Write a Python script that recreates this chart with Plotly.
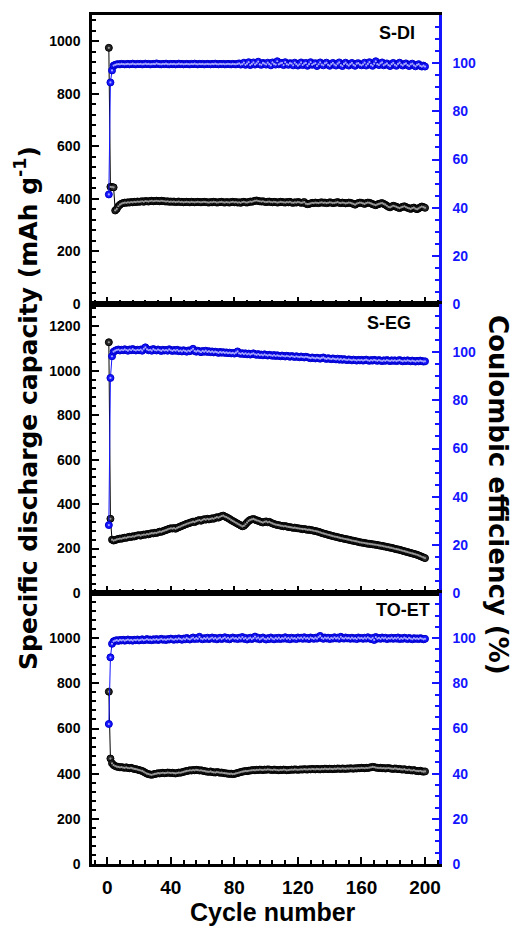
import plotly.graph_objects as go

cycles = list(range(1, 201))

panel_labels = ["S-DI", "S-EG", "TO-ET"]

sdi_cap = [
    975, 446, 445, 444, 356, 362, 372, 378, 382, 384, 386, 385, 387, 386, 388, 387, 389, 388, 390, 389,
    390, 391, 389, 392, 391, 390, 392, 393, 391, 392, 393, 392, 391, 393, 392, 391, 390, 391, 389, 390,
    389, 390, 388, 389, 390, 388, 389, 387, 388, 389, 388, 387, 389, 388, 387, 388, 389, 388, 387, 388,
    389, 388, 387, 386, 388, 387, 389, 388, 386, 387, 388, 389, 387, 386, 388, 387, 386, 388, 389, 387,
    388, 386, 387, 385, 388, 389, 387, 386, 388, 390, 389, 391, 393, 394, 392, 391, 390, 391, 389, 388,
    389, 390, 388, 387, 389, 388, 386, 387, 389, 388, 387, 386, 388, 387, 389, 386, 385, 387, 386, 388,
    387, 385, 386, 388, 382, 380, 381, 383, 385, 384, 386, 385, 384, 386, 387, 385, 386, 384, 385, 387,
    386, 384, 385, 386, 388, 385, 384, 386, 385, 383, 384, 386, 385, 383, 381, 378, 382, 384, 386, 385,
    383, 381, 384, 386, 385, 383, 380, 378, 376, 379, 381, 383, 384, 381, 378, 374, 370, 368, 371, 374,
    372, 370, 367, 365, 368, 370, 372, 369, 366, 364, 362, 365, 367, 363, 361, 364, 368, 371, 369, 366,
]
sdi_ce = [
    45.5, 92.0, 97.0, 99.0, 99.3, 99.5, 99.6, 99.5, 99.7, 99.6, 99.5, 99.6, 99.7, 99.5, 99.6, 99.8, 99.6, 99.5, 99.7, 99.6,
    99.7, 99.5, 99.6, 99.8, 99.6, 99.7, 99.5, 99.6, 99.7, 99.6, 99.9, 99.7, 99.6, 99.5, 99.7, 99.6, 99.8, 99.6, 99.5, 99.7,
    99.6, 99.7, 99.5, 99.6, 99.8, 99.6, 99.7, 99.5, 99.6, 99.7, 99.6, 99.5, 99.7, 99.6, 99.8, 99.6, 99.5, 99.7, 99.6, 99.7,
    99.5, 99.6, 99.7, 99.6, 99.5, 99.7, 99.6, 99.8, 99.6, 99.5, 99.7, 99.6, 99.7, 99.5, 99.6, 99.7, 99.6, 99.5, 99.7, 99.6,
    99.5, 99.7, 99.9, 99.4, 99.6, 100.2, 99.3, 99.8, 100.4, 99.2, 99.7, 100.3, 99.4, 99.9, 100.6, 99.5, 99.3, 100.1, 99.8, 99.4,
    100.2, 99.6, 99.1, 100.3, 99.7, 99.4, 100.8, 99.5, 99.9, 100.1, 99.2, 100.4, 99.6, 99.3, 100.0, 99.8, 99.1, 100.2, 99.6, 99.0,
    99.5, 100.3, 99.2, 99.8, 100.1, 98.9, 99.6, 100.4, 99.3, 99.7, 100.0, 98.8, 99.5, 100.3, 99.4, 99.1, 99.9, 100.2, 99.3, 98.9,
    99.6, 100.1, 99.4, 99.0, 99.8, 100.3, 99.2, 98.8, 99.7, 100.2, 99.5, 99.0, 99.6, 100.1, 99.3, 98.9, 99.8, 100.0, 99.4, 99.1,
    99.5, 100.2, 99.0, 99.7, 100.4, 99.3, 98.9, 99.8, 100.8, 99.6, 99.2, 99.9, 100.3, 99.1, 99.5, 99.9, 99.2, 98.8, 99.6, 100.1,
    99.3, 98.9, 99.7, 100.2, 99.4, 99.0, 99.6, 99.9, 99.2, 98.8, 99.5, 99.8, 99.1, 98.7, 99.3, 99.6, 98.9, 98.6, 99.0, 98.6,
]

seg_cap = [
    1128, 334, 240, 236, 238, 241, 243, 245, 244, 247, 249, 248, 251, 253, 252, 255, 254, 257, 259, 260,
    258, 261, 263, 262, 265, 264, 267, 269, 268, 271, 270, 273, 276, 275, 278, 281, 283, 286, 289, 291,
    290, 292, 289, 293, 296, 299, 302, 305, 308, 311, 313, 316, 318, 321, 319, 323, 326, 328, 325, 329,
    332, 330, 334, 331, 333, 336, 334, 338, 341, 339, 343, 346, 348, 344, 341, 337, 333, 328, 324, 320,
    316, 312, 308, 304, 300, 302, 309, 317, 324, 329, 331, 333, 330, 327, 325, 322, 319, 317, 320, 322,
    318, 320, 316, 313, 310, 308, 306, 305, 303, 302, 300, 301, 299, 297, 296, 295, 293, 294, 292, 291,
    290, 289, 287, 288, 286, 284, 285, 283, 282, 280, 279, 277, 275, 273, 270, 268, 266, 264, 262, 260,
    258, 256, 254, 253, 251, 249, 247, 246, 244, 243, 241, 240, 238, 236, 235, 233, 232, 230, 228, 227,
    226, 225, 223, 222, 221, 220, 219, 218, 217, 216, 214, 213, 212, 210, 209, 207, 206, 204, 203, 201,
    199, 197, 196, 194, 192, 190, 188, 186, 184, 182, 180, 178, 176, 174, 172, 169, 166, 163, 160, 157,
]
seg_ce = [
    28.2, 89.3, 98.3, 100.2, 100.6, 100.9, 101.1, 100.7, 101.0, 100.8, 101.2, 100.9, 100.6, 101.1, 100.8, 101.3, 100.9, 100.7, 101.0, 100.8,
    101.1, 100.6, 101.4, 102.0, 101.2, 100.8, 101.0, 100.6, 101.3, 100.9, 100.7, 101.1, 100.8, 100.5, 101.0, 100.7, 100.9, 100.6, 101.2, 100.8,
    100.5, 100.9, 100.6, 101.0, 100.4, 100.7, 100.3, 100.8, 100.5, 100.2, 100.7, 100.4, 100.9, 101.4, 100.5, 100.2, 100.6, 100.3, 100.0, 100.5,
    100.2, 100.6, 100.1, 100.4, 100.0, 100.3, 99.9, 100.2, 100.0, 99.7, 100.1, 99.8, 100.0, 99.7, 99.9, 99.6, 99.8, 99.5, 99.7, 99.4,
    99.8, 100.3, 99.5, 99.3, 99.6, 99.2, 99.5, 99.1, 99.4, 99.0, 99.3, 99.5, 99.1, 98.9, 99.2, 98.8, 99.0, 98.7, 99.1, 98.8,
    98.6, 98.9, 98.7, 98.5, 98.8, 98.4, 98.7, 98.5, 98.3, 98.6, 98.4, 98.2, 98.5, 98.3, 98.1, 98.4, 98.2, 98.0, 98.3, 98.1,
    97.9, 98.2, 98.0, 97.8, 98.1, 97.9, 97.7, 97.5, 97.8, 97.6, 97.4, 97.7, 97.5, 97.3, 97.6, 97.8, 97.4, 97.2, 97.5, 97.3,
    97.1, 97.4, 97.2, 97.0, 97.3, 96.9, 97.2, 96.8, 97.1, 96.9, 96.7, 97.0, 96.8, 96.6, 96.9, 96.7, 96.5, 96.8, 96.6, 96.8,
    96.5, 96.7, 96.9, 96.6, 96.4, 96.7, 96.5, 96.8, 96.6, 96.4, 96.7, 96.5, 96.3, 96.6, 96.4, 96.7, 96.5, 96.3, 96.6, 96.4,
    96.6, 96.3, 96.5, 96.7, 96.4, 96.2, 96.5, 96.3, 96.6, 96.4, 96.2, 96.5, 96.3, 96.1, 96.4, 96.2, 96.5, 96.3, 96.1, 96.2,
]

toet_cap = [
    763, 467, 446, 438, 434, 431, 430, 428, 429, 427, 426, 428, 425, 424, 426, 423, 421, 420, 418, 416,
    414, 412, 408, 404, 400, 398, 396, 395, 397, 399, 400, 402, 401, 403, 404, 402, 403, 405, 404, 403,
    404, 402, 401, 403, 405, 404, 406, 408, 410, 412, 413, 415, 414, 416, 415, 417, 416, 414, 415, 413,
    412, 410, 409, 408, 410, 407, 406, 405, 407, 406, 404, 405, 403, 402, 401, 400, 399, 400, 398, 399,
    401, 403, 405, 407, 409, 410, 412, 411, 413, 414, 415, 416, 415, 417, 416, 418, 417, 416, 418, 417,
    419, 418, 417, 416, 418, 417, 416, 415, 417, 416, 418, 417, 415, 416, 417, 418, 417, 419, 418, 417,
    418, 419, 418, 420, 419, 418, 420, 419, 421, 420, 419, 421, 420, 419, 421, 420, 422, 421, 420, 422,
    421, 420, 422, 421, 423, 422, 421, 423, 422, 421, 423, 422, 424, 423, 422, 424, 423, 425, 424, 426,
    425, 424, 426, 425, 427, 428, 430, 429, 427, 426, 425, 426, 424, 425, 423, 424, 425, 423, 422, 421,
    423, 422, 420, 421, 419, 418, 420, 417, 416, 418, 415, 414, 416, 413, 412, 411, 413, 410, 409, 410,
]
toet_ce = [
    62.0, 91.5, 97.5, 98.6, 98.9, 99.1, 98.8, 99.2, 99.0, 99.3, 98.9, 99.1, 99.4, 99.0, 99.2, 98.9, 99.3, 99.1, 99.4, 99.0,
    99.2, 99.5, 99.1, 99.3, 99.6, 99.2, 99.4, 99.1, 99.5, 99.3, 99.6, 99.2, 99.4, 99.7, 99.3, 99.5, 99.2, 99.6, 99.4, 99.8,
    99.5, 99.3, 99.7, 99.4, 99.9, 99.6, 99.3, 99.8, 99.5, 100.1, 99.7, 99.4, 99.9, 100.3, 99.6, 100.0, 99.7, 100.6, 99.8, 99.5,
    100.0, 99.7, 100.2, 99.6, 99.9, 100.3, 99.7, 100.1, 99.5, 99.9, 100.2, 99.6, 100.0, 100.4, 99.7, 100.1, 99.5, 99.9, 100.3, 99.8,
    100.0, 99.6, 100.2, 99.8, 100.5, 99.7, 100.1, 99.4, 99.9, 100.2, 99.6, 100.0, 100.7, 99.8, 100.2, 99.5, 99.9, 100.3, 99.7, 99.4,
    100.0, 99.6, 100.3, 99.8, 99.5, 100.1, 99.7, 100.2, 99.6, 100.0, 99.8, 100.4, 99.7, 100.1, 99.5, 100.2, 99.8, 100.0, 99.6, 100.3,
    99.9, 100.2, 99.7, 100.4, 99.8, 100.1, 99.6, 100.3, 100.0, 99.7, 100.2, 99.8, 100.5, 101.0, 100.1, 99.7, 100.3, 99.9, 100.2, 99.6,
    100.1, 99.8, 100.4, 99.9, 100.2, 99.7, 100.6, 100.0, 99.8, 100.3, 99.9, 100.1, 99.7, 100.2, 99.8, 100.0, 99.6, 100.3, 99.9, 100.1,
    99.7, 100.2, 99.8, 100.4, 99.9, 99.6, 100.1, 99.2, 100.5, 99.8, 100.1, 99.7, 100.3, 99.9, 100.2, 99.6, 100.0, 99.8, 100.2, 99.7,
    100.1, 99.8, 100.3, 99.6, 100.0, 99.7, 100.2, 99.9, 99.6, 100.1, 99.8, 99.5, 100.0, 99.7, 99.9, 99.6, 100.0, 99.8, 99.5, 99.7,
]

x_ticks = [0, 40, 80, 120, 160, 200]
cap_ticks = [[0, 200, 400, 600, 800, 1000],
             [0, 200, 400, 600, 800, 1000, 1200],
             [0, 200, 400, 600, 800, 1000]]
cap_ranges = [[0, 1100], [0, 1300], [0, 1200]]
ce_ticks = [0, 20, 40, 60, 80, 100]
ce_range = [0, 120]
x_range = [-9.6, 208.8]

caps = [sdi_cap, seg_cap, toet_cap]
ces = [sdi_ce, seg_ce, toet_ce]

# layout geometry (pixels)
W, H = 513, 927
ML, MR, MT, MB = 92, 74, 15, 63
PW = W - ML - MR
PH = H - MT - MB
panel_px = [(15, 304), (304, 593), (593, 864)]  # top, bottom in px


def py2paper(py):
    return (H - MB - py) / PH


def px2paper(px):
    return (px - ML) / PW


BLUE = "#1515ff"
BLACK = "#000000"
FONT = "Liberation Sans, Arial, sans-serif"

fig = go.Figure()

for i in range(3):
    n = i + 1
    xa = "x" if n == 1 else f"x{n}"
    yl = "y" if n == 1 else f"y{2 * n - 1}"
    yr = f"y{2 * n}"
    fig.add_trace(go.Scatter(
        x=cycles, y=caps[i], xaxis=xa, yaxis=yl, mode="lines+markers",
        line=dict(color=BLACK, width=1),
        marker=dict(size=7, color="#262626", line=dict(color="#000000", width=1)),
        showlegend=False, hoverinfo="skip"))
    # sphere highlight
    fig.add_trace(go.Scatter(
        x=cycles, y=caps[i], xaxis=xa, yaxis=yl, mode="markers",
        marker=dict(size=2.2, color="#9a9a9a", line=dict(width=0)),
        showlegend=False, hoverinfo="skip"))
    fig.add_trace(go.Scatter(
        x=cycles, y=ces[i], xaxis=xa, yaxis=yr, mode="lines+markers",
        line=dict(color=BLUE, width=1),
        marker=dict(size=7, color=BLUE, line=dict(color="#0000cc", width=1)),
        showlegend=False, hoverinfo="skip"))
    fig.add_trace(go.Scatter(
        x=cycles, y=ces[i], xaxis=xa, yaxis=yr, mode="markers",
        marker=dict(size=2.2, color="#a8a8ff", line=dict(width=0)),
        showlegend=False, hoverinfo="skip"))

layout = dict(
    width=W, height=H,
    margin=dict(l=ML, r=MR, t=MT, b=MB, autoexpand=False),
    paper_bgcolor="white", plot_bgcolor="white",
    showlegend=False,
    font=dict(family=FONT, color="black"),
)

for i in range(3):
    n = i + 1
    top, bot = panel_px[i]
    dom = [py2paper(bot), py2paper(top)]
    xkey = "xaxis" if n == 1 else f"xaxis{n}"
    ylkey = "yaxis" if n == 1 else f"yaxis{2 * n - 1}"
    yrkey = f"yaxis{2 * n}"
    yl = "y" if n == 1 else f"y{2 * n - 1}"
    xa = "x" if n == 1 else f"x{n}"
    layout[xkey] = dict(
        domain=[0, 1], anchor=yl, range=x_range, automargin=False,
        showline=True, linecolor="black", linewidth=2.5, mirror=True,
        ticks="inside", ticklen=7, tickwidth=2, tickcolor="black",
        tickvals=x_ticks, showticklabels=(n == 3),
        tickfont=dict(family=FONT, size=19, weight="bold", color="black"),
        minor=dict(dtick=8, tick0=0, ticks="inside", ticklen=4, tickwidth=1.5, tickcolor="black"),
        showgrid=False, zeroline=False,
        ticklabelstandoff=4,
    )
    if n > 1:
        layout[xkey]["matches"] = "x"
    layout[ylkey] = dict(
        domain=dom, anchor=xa, range=cap_ranges[i], automargin=False,
        showline=True, linecolor="black", linewidth=2.5,
        ticks="inside", ticklen=7, tickwidth=2, tickcolor="black",
        tickvals=cap_ticks[i],
        tickfont=dict(family=FONT, size=14, weight="bold", color="black"),
        minor=dict(dtick=40, tick0=0, ticks="inside", ticklen=4, tickwidth=1.5, tickcolor="black"),
        showgrid=False, zeroline=False,
        ticklabelstandoff=6,
    )
    layout[yrkey] = dict(
        domain=dom, anchor=xa, overlaying=yl, side="right", range=ce_range, automargin=False,
        showline=True, linecolor=BLUE, linewidth=2.5,
        ticks="inside", ticklen=7, tickwidth=2, tickcolor=BLUE,
        tickvals=ce_ticks,
        tickfont=dict(family=FONT, size=14, weight="bold", color=BLUE),
        minor=dict(dtick=5, tick0=0, ticks="inside", ticklen=4, tickwidth=1.5, tickcolor=BLUE),
        showgrid=False, zeroline=False,
        ticklabelstandoff=8,
    )

fig.update_layout(**layout)

annotations = []
label_pos = [(417, 33), (413, 323), (432, 610)]
for lab, (px, py) in zip(panel_labels, label_pos):
    annotations.append(dict(
        text=lab, xref="paper", yref="paper", x=px2paper(px), y=py2paper(py),
        xanchor="right", yanchor="middle", showarrow=False,
        font=dict(family=FONT, size=18, weight="bold", color="black")))

annotations.append(dict(
    text="Cycle number", xref="paper", yref="paper", x=px2paper(273), y=py2paper(912),
    xanchor="center", yanchor="middle", showarrow=False,
    font=dict(family=FONT, size=25, weight="bold", color="black")))
annotations.append(dict(
    text="Specific discharge capacity (mAh g<sup>-1</sup>)", xref="paper", yref="paper",
    x=px2paper(27), y=py2paper(408), textangle=-90,
    xanchor="center", yanchor="middle", showarrow=False,
    font=dict(family="DejaVu Sans", size=25, weight="bold", color="black")))
annotations.append(dict(
    text="Coulombic efficiency (%)", xref="paper", yref="paper",
    x=px2paper(498), y=py2paper(495), textangle=90,
    xanchor="center", yanchor="middle", showarrow=False,
    font=dict(family="DejaVu Sans", size=26, weight="bold", color="black")))

fig.update_layout(annotations=annotations)

fig.write_html(
    "out.html",
    config={"displayModeBar": False},
    post_script="document.body.style.margin='0px';document.body.style.overflow='hidden';",
)
